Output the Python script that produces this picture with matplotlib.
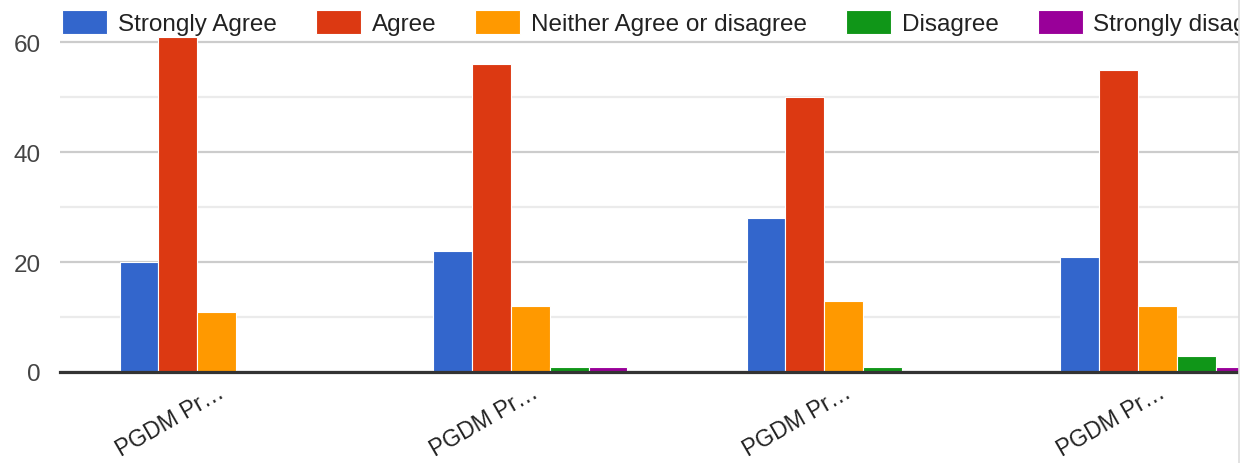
import matplotlib.pyplot as plt
from matplotlib.patches import Rectangle
from matplotlib.lines import Line2D
import numpy as np

plt.rcParams['font.family'] = ['Liberation Sans', 'DejaVu Sans']

# data
groups = ['PGDM Pr…', 'PGDM Pr…', 'PGDM Pr…', 'PGDM Pr…']
series = ['Strongly Agree', 'Agree', 'Neither Agree or disagree', 'Disagree', 'Strongly disagree']
strongly_agree = [20, 22, 28, 21]
agree = [61, 56, 50, 55]
neither = [11, 12, 13, 12]
disagree = [0, 1, 1, 3]
strongly_disagree = [0, 1, 0, 1]
values = [strongly_agree, agree, neither, disagree, strongly_disagree]
colors = ['#3366cc', '#dc3912', '#ff9900', '#109618', '#990099']

W, H = 1253, 464
fig = plt.figure(figsize=(W / 100, H / 100), dpi=100)
# plot area continues past the right edge (the screenshot is cut off there)
ax = fig.add_axes([60 / W, (H - 373) / H, (1314 - 60) / W, (373 - 37.5) / H])

x = np.arange(len(groups))
bw = 0.124
for i, (vals, c) in enumerate(zip(values, colors)):
    ax.bar(x + (i - 2) * bw, vals, width=bw, color=c, edgecolor='white',
           linewidth=0.8, zorder=3, label=series[i])

ax.set_xlim(-0.5, len(groups) - 0.5)
ax.set_ylim(0, 61)
ax.set_yticks([0, 20, 40, 60])
ax.set_yticks([10, 30, 50], minor=True)
ax.grid(axis='y', which='major', color='#cccccc', linewidth=1.6, zorder=0)
ax.grid(axis='y', which='minor', color='#ebebeb', linewidth=1.6, zorder=0)
ax.axhline(0, color='#333333', linewidth=2.3, zorder=4, clip_on=False)
for s in ax.spines.values():
    s.set_visible(False)
ax.tick_params(axis='y', which='both', length=0, pad=14, labelsize=17.5, labelcolor='#444444')
ax.tick_params(axis='x', length=0, pad=6, labelsize=16.5, labelcolor='#222222')
ax.set_xticks(x)
ax.set_xticklabels(groups, rotation=30, ha='right', va='top', rotation_mode='anchor')

# legend across the top
leg = ax.legend(loc='upper left', bbox_to_anchor=(62 / W, (H - 11) / H),
                bbox_transform=fig.transFigure, ncol=5, frameon=False,
                fontsize=17.5, handlelength=1.85, handleheight=1.15,
                handletextpad=0.45, columnspacing=1.6, borderpad=0,
                borderaxespad=0)
for t in leg.get_texts():
    t.set_color('#222222')

# screenshot edge on the right
fig.patches.append(Rectangle((1239 / W, 0), 1, 1, transform=fig.transFigure,
                             facecolor='white', edgecolor='none', zorder=10))
fig.lines.append(Line2D([1238.5 / W, 1238.5 / W], [0, 1], transform=fig.transFigure,
                        color='#dddddd', linewidth=1.2, zorder=11))

fig.savefig('out.png', dpi=100)
